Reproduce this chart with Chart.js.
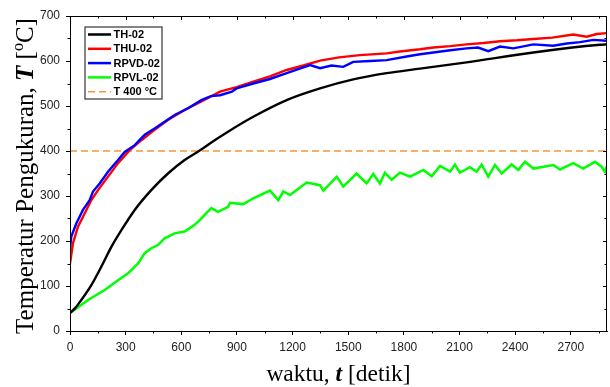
<!DOCTYPE html>
<html>
<head>
<meta charset="utf-8">
<script src="https://cdn.jsdelivr.net/npm/chart.js@4.4.0/dist/chart.umd.min.js"></script>
<style>
html, body { margin: 0; padding: 0; background: #fff; }
</style>
</head>
<body>
<canvas id="chart" width="610" height="387"></canvas>
<script>
// x values in seconds, y values in degC
const thTime = [0, 30, 61, 115, 169, 223, 277, 349, 438, 528, 618, 699, 780, 852, 988, 1168, 1348, 1527, 1707, 1887, 2138, 2498, 2857, 2895];
const thTemp = [40, 52, 69, 102, 143, 187, 224, 269, 313, 350, 380, 401, 424, 443, 476, 513, 539, 559, 573, 583, 597, 619, 636, 637];

const thuTime = [0, 16, 43, 79, 115, 151, 205, 259, 322, 385, 456, 528, 618, 708, 809, 898, 988, 1078, 1168, 1258, 1348, 1450, 1563, 1707, 1779, 1887, 1959, 2050, 2138, 2230, 2318, 2410, 2498, 2600, 2713, 2785, 2840, 2893];
const thuTemp = [150, 195, 232, 261, 291, 313, 343, 373, 402, 424, 447, 469, 491, 510, 532, 542, 554, 566, 580, 590, 601, 608, 613, 617, 621, 626, 630, 633, 637, 640, 644, 646, 649, 652, 659, 654, 660, 662];

const rpvdTime = [0, 7, 34, 70, 106, 124, 160, 205, 259, 295, 349, 403, 456, 510, 564, 636, 708, 760, 809, 873, 898, 988, 1078, 1168, 1294, 1348, 1410, 1473, 1527, 1620, 1707, 1815, 1887, 1959, 2050, 2138, 2200, 2255, 2318, 2390, 2498, 2605, 2678, 2750, 2822, 2893];
const rpvdTemp = [184, 210, 239, 269, 291, 310, 328, 354, 380, 398, 413, 436, 450, 465, 480, 495, 513, 522, 524, 532, 539, 550, 560, 573, 591, 584, 590, 587, 598, 600, 602, 610, 615, 619, 624, 628, 630, 622, 632, 628, 637, 634, 639, 642, 647, 645];

const rpvlTime = [0, 97, 187, 259, 313, 367, 403, 438, 474, 510, 564, 618, 672, 701, 726, 762, 798, 852, 863, 934, 988, 1078, 1123, 1150, 1186, 1276, 1348, 1366, 1438, 1473, 1545, 1599, 1635, 1671, 1698, 1734, 1779, 1833, 1905, 1950, 1995, 2049, 2075, 2102, 2156, 2192, 2219, 2255, 2291, 2327, 2381, 2417, 2453, 2498, 2606, 2642, 2713, 2767, 2830, 2866, 2884, 2895];
const rpvlTemp = [40, 69, 91, 113, 128, 150, 173, 184, 191, 206, 217, 221, 236, 247, 258, 273, 265, 276, 285, 282, 295, 312, 291, 310, 302, 330, 324, 312, 343, 321, 350, 328, 349, 328, 352, 336, 352, 343, 358, 344, 367, 354, 370, 352, 364, 354, 370, 343, 369, 350, 370, 358, 376, 361, 369, 359, 373, 361, 376, 365, 354, 367];

const refTime = [0, 2895];
const refTemp = [400, 400];

const xTicks = [0, 300, 600, 900, 1200, 1500, 1800, 2100, 2400, 2700];
const yTicks = [0, 100, 200, 300, 400, 500, 600, 700];

const legendLabels = ['TH-02', 'THU-02', 'RPVD-02', 'RPVL-02', 'T 400 °C'];
const colors = ['#000000', '#ff0000', '#0000ff', '#00ff00', '#f5963a'];

function pts(ts, vs) {
    return ts.map((t, i) => ({ x: t, y: vs[i] }));
}

// frame, minor ticks, mirrored ticks, axis titles and legend box
const decor = {
    id: 'decor',
    afterDraw(chart) {
        const ctx = chart.ctx;
        const a = chart.chartArea;
        const xs = chart.scales.x;
        const ys = chart.scales.y;
        ctx.save();
        ctx.strokeStyle = '#000';
        ctx.lineWidth = 1;
        ctx.strokeRect(a.left + 0.5, a.top + 0.5, a.right - a.left - 1, a.bottom - a.top);

        ctx.beginPath();
        for (let t = 0; t <= 2895; t += 150) {
            const x = Math.round(xs.getPixelForValue(t)) + 0.5;
            const major = t % 300 === 0;
            if (!major) {
                ctx.moveTo(x, a.bottom);
                ctx.lineTo(x, a.bottom + 2.5);
            }
            ctx.moveTo(x, a.top);
            ctx.lineTo(x, a.top + (major ? 4 : 2.5));
        }
        for (let v = 0; v <= 700; v += 50) {
            const y = Math.round(ys.getPixelForValue(v)) + 0.5;
            const major = v % 100 === 0;
            if (!major) {
                ctx.moveTo(a.left, y);
                ctx.lineTo(a.left - 2.5, y);
            }
            ctx.moveTo(a.right, y);
            ctx.lineTo(a.right - (major ? 4 : 2.5), y);
        }
        ctx.stroke();

        // axis titles
        ctx.fillStyle = '#000';
        ctx.textBaseline = 'alphabetic';
        const fam = '"Liberation Serif", "Times New Roman", serif';

        function runs(parts) {
            let w = 0;
            parts.forEach(p => { ctx.font = p.f; p.w = ctx.measureText(p.s).width; w += p.w; });
            return w;
        }
        function drawRuns(parts, x0, y0) {
            let x = x0;
            parts.forEach(p => {
                ctx.font = p.f;
                ctx.fillText(p.s, x, y0 + (p.dy || 0));
                x += p.w;
            });
        }

        const xt = [
            { s: 'waktu, ', f: '23.5px ' + fam },
            { s: 't', f: 'bold italic 23.5px ' + fam },
            { s: ' [detik]', f: '23.5px ' + fam }
        ];
        const xw = runs(xt);
        drawRuns(xt, (a.left + a.right) / 2 - xw / 2, 381);

        const yt = [
            { s: 'Temperatur Pengukuran, ', f: '25px ' + fam },
            { s: 'T', f: 'bold italic 25px ' + fam },
            { s: ' [', f: '25px ' + fam },
            { s: 'o', f: '16px ' + fam, dy: -10 },
            { s: 'C]', f: '25px ' + fam }
        ];
        const yw = runs(yt);
        ctx.save();
        ctx.translate(33, 176);
        ctx.rotate(-Math.PI / 2);
        drawRuns(yt, -yw / 2, 0);
        ctx.restore();

        // legend
        const lx = 85, ly = 27, lw = 77, lh = 72;
        ctx.fillStyle = '#fff';
        ctx.fillRect(lx, ly, lw, lh);
        ctx.strokeStyle = '#444';
        ctx.lineWidth = 1.3;
        ctx.strokeRect(lx, ly, lw, lh);
        ctx.font = 'bold 11px "Liberation Sans", Arial, sans-serif';
        ctx.textBaseline = 'middle';
        legendLabels.forEach((lab, i) => {
            const y = 34.5 + i * 14.3;
            ctx.strokeStyle = colors[i];
            ctx.lineWidth = i === 4 ? 1.6 : 2.5;
            ctx.setLineDash(i === 4 ? [7, 4] : []);
            ctx.beginPath();
            ctx.moveTo(88, y);
            ctx.lineTo(111, y);
            ctx.stroke();
            ctx.setLineDash([]);
            ctx.fillStyle = '#000';
            ctx.fillText(lab, 113.5, y + 0.5);
        });
        ctx.restore();
    }
};

const tickFont = { family: '"Liberation Sans", Arial, sans-serif', size: 12 };

const ctx = document.getElementById('chart').getContext('2d');
new Chart(ctx, {
    type: 'line',
    data: {
        datasets: [
            { label: legendLabels[2], data: pts(rpvdTime, rpvdTemp), borderColor: colors[2], borderWidth: 2.4, pointRadius: 0, order: 1 },
            { label: legendLabels[1], data: pts(thuTime, thuTemp), borderColor: colors[1], borderWidth: 2.4, pointRadius: 0, order: 2 },
            { label: legendLabels[0], data: pts(thTime, thTemp), borderColor: colors[0], borderWidth: 2.4, pointRadius: 0, cubicInterpolationMode: 'monotone', order: 3 },
            { label: legendLabels[3], data: pts(rpvlTime, rpvlTemp), borderColor: colors[3], borderWidth: 2.5, pointRadius: 0, order: 4 },
            { label: legendLabels[4], data: pts(refTime, refTemp), borderColor: colors[4], borderWidth: 1.6, borderDash: [7, 4], pointRadius: 0, order: 10 }
        ]
    },
    options: {
        responsive: false,
        animation: false,
        layout: { padding: { top: 16, right: 3, left: 0, bottom: 0 } },
        plugins: { legend: { display: false }, tooltip: { enabled: false } },
        scales: {
            x: {
                type: 'linear',
                min: 0,
                max: 2895,
                afterFit: s => { s.height = 56; },
                afterBuildTicks: s => { s.ticks = xTicks.map(v => ({ value: v })); },
                ticks: {
                    color: '#222',
                    font: tickFont,
                    padding: 5,
                    maxRotation: 0,
                    autoSkip: false,
                    callback: v => String(v)
                },
                grid: { drawOnChartArea: false, drawTicks: true, tickLength: 4, color: '#000' },
                border: { display: true, color: '#000' }
            },
            y: {
                min: 0,
                max: 700,
                afterFit: s => { s.width = 70; },
                afterBuildTicks: s => { s.ticks = yTicks.map(v => ({ value: v })); },
                ticks: {
                    color: '#222',
                    font: tickFont,
                    padding: 6,
                    callback: v => String(v)
                },
                grid: { drawOnChartArea: false, drawTicks: true, tickLength: 4, color: '#000' },
                border: { display: true, color: '#000' }
            }
        }
    },
    plugins: [decor]
});
</script>
</body>
</html>
